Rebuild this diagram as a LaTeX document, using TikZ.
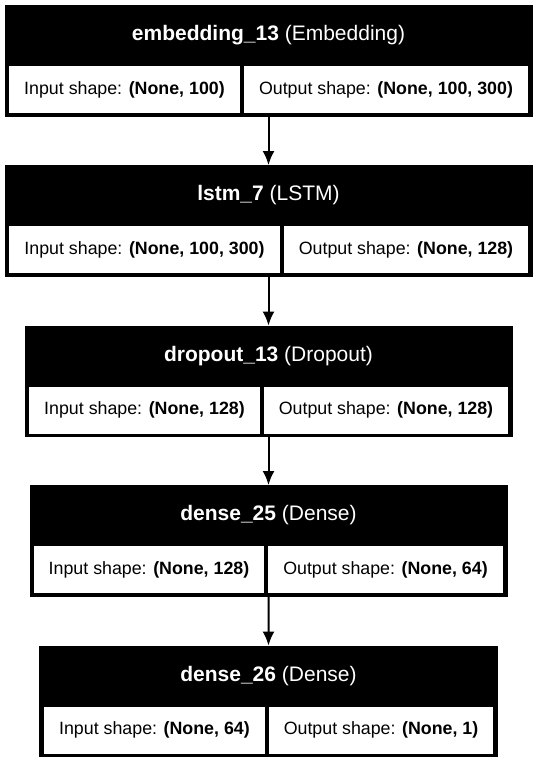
\documentclass[tikz,border=0pt]{standalone}
\usepackage{fontspec}
\setmainfont{Liberation Sans}
\usetikzlibrary{arrows.meta}
\newcommand{\cellfnt}{\fontsize{17.8}{20}\selectfont}
\newcommand{\hdrfnt}{\fontsize{21}{24}\selectfont}
\begin{document}
\begin{tikzpicture}[x=1pt,y=-1pt,
  blk/.style={fill=black, inner sep=0pt, outer sep=0pt, anchor=north west, minimum height=111.5pt},
  hdr/.style={text=white, font=\hdrfnt, inner sep=0pt},
  cellbox/.style={fill=white, inner sep=0pt, outer sep=0pt, anchor=north west, minimum height=47pt, font=\cellfnt},
  flow/.style={line width=2pt, -{Latex[length=14pt,width=12pt]}}
]
\useasboundingbox[fill=white] (0,0) rectangle (537,763);

% block 1
\node[blk, minimum width=528pt] (b1) at (4.5,5) {};
\node[hdr] (h1) at (268.5,35.5) {\textbf{embedding\_13} (Embedding)};
\node[cellbox, minimum width=231pt] (i1) at (9,66) {Input shape: \textbf{(None, 100)}};
\node[cellbox, minimum width=284pt] (o1) at (244,66) {Output shape: \textbf{(None, 100, 300)}};

% block 2
\node[blk, minimum width=528pt] (b2) at (4.5,165) {};
\node[hdr] (h2) at (268.5,195.5) {\textbf{lstm\_7} (LSTM)};
\node[cellbox, minimum width=271pt] (i2) at (9,226) {Input shape: \textbf{(None, 100, 300)}};
\node[cellbox, minimum width=244pt] (o2) at (284,226) {Output shape: \textbf{(None, 128)}};

% block 3
\node[blk, minimum width=488pt] (b3) at (24.5,325.5) {};
\node[hdr] (h3) at (268.5,356) {\textbf{dropout\_13} (Dropout)};
\node[cellbox, minimum width=231pt] (i3) at (29,386.5) {Input shape: \textbf{(None, 128)}};
\node[cellbox, minimum width=244pt] (o3) at (264,386.5) {Output shape: \textbf{(None, 128)}};

% block 4
\node[blk, minimum width=478pt] (b4) at (29.5,485) {};
\node[hdr] (h4) at (268.5,515.5) {\textbf{dense\_25} (Dense)};
\node[cellbox, minimum width=230pt] (i4) at (34,546) {Input shape: \textbf{(None, 128)}};
\node[cellbox, minimum width=235pt] (o4) at (268,546) {Output shape: \textbf{(None, 64)}};

% block 5
\node[blk, minimum width=458.2pt] (b5) at (39.4,645.5) {};
\node[hdr] (h5) at (268.5,676) {\textbf{dense\_26} (Dense)};
\node[cellbox, minimum width=221.1pt] (i5) at (43.9,706.5) {Input shape: \textbf{(None, 64)}};
\node[cellbox, minimum width=224.1pt] (o5) at (269,706.5) {Output shape: \textbf{(None, 1)}};

% connectors
\draw[flow] (b1.south) -- (b2.north);
\draw[flow] (b2.south) -- (b3.north);
\draw[flow] (b3.south) -- (b4.north);
\draw[flow] (b4.south) -- (b5.north);
\end{tikzpicture}
\end{document}
